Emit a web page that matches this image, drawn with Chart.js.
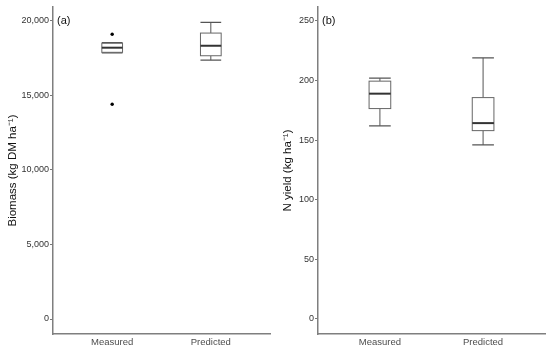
<!DOCTYPE html>
<html>
<head>
    <title>Biomass and N yield</title>
    <script src="https://cdn.jsdelivr.net/npm/chart.js"></script>
    <style>
        body { margin: 0; background: #fff; }
        .panel { position: absolute; top: 0; width: 275px; height: 351px; }
    </style>
</head>
<body>
    <div class="panel" style="left: 0;"><canvas id="biomassChart"></canvas></div>
    <div class="panel" style="left: 275px;"><canvas id="nyieldChart"></canvas></div>

    <script>
    // categories on the x axis
    const categories = ['Measured', 'Predicted'];

    // (a) biomass, kg DM/ha - box stats per category
    const biomassLow = [17850, 17360];
    const biomassQ1 = [17880, 17650];
    const biomassMedian = [18190, 18320];
    const biomassQ3 = [18486, 19170];
    const biomassHigh = [18526, 19890];
    const biomassOutliers = [19090, 14400]; // all on "Measured"
    const biomassTicks = [0, 5000, 10000, 15000, 20000];

    // (b) N yield, kg/ha
    const nLow = [162, 146];
    const nQ1 = [176.5, 158];
    const nMedian = [189, 164.3];
    const nQ3 = [199.5, 185.7];
    const nHigh = [202, 219];
    const nTicks = [0, 50, 100, 150, 200, 250];

    const FONT = "'Liberation Sans', Arial, sans-serif";

    // draws the boxes + whiskers through the chart's scales
    function boxPlugin(low, q1, med, q3, high, tag) {
        return {
            id: 'boxes',
            beforeDatasetsDraw(chart) {
                const ctx = chart.ctx;
                const xs = chart.scales.x, ys = chart.scales.y;
                const half = xs.getPixelForValue(1.105) - xs.getPixelForValue(1);
                ctx.save();
                for (let i = 0; i < categories.length; i++) {
                    const cx = xs.getPixelForValue(i + 1);
                    const yLow = ys.getPixelForValue(low[i]);
                    const yQ1 = ys.getPixelForValue(q1[i]);
                    const yMed = ys.getPixelForValue(med[i]);
                    const yQ3 = ys.getPixelForValue(q3[i]);
                    const yHigh = ys.getPixelForValue(high[i]);

                    ctx.strokeStyle = '#555';
                    ctx.lineWidth = 1;
                    ctx.beginPath();
                    ctx.moveTo(cx, yHigh); ctx.lineTo(cx, yQ3);
                    ctx.moveTo(cx, yQ1); ctx.lineTo(cx, yLow);
                    ctx.stroke();

                    // caps
                    ctx.lineWidth = 1.3;
                    ctx.beginPath();
                    ctx.moveTo(cx - half, yHigh); ctx.lineTo(cx + half, yHigh);
                    ctx.moveTo(cx - half, yLow); ctx.lineTo(cx + half, yLow);
                    ctx.stroke();

                    // box
                    ctx.fillStyle = '#fff';
                    ctx.fillRect(cx - half, yQ3, half * 2, yQ1 - yQ3);
                    ctx.strokeStyle = '#666';
                    ctx.lineWidth = 1;
                    ctx.strokeRect(cx - half, yQ3, half * 2, yQ1 - yQ3);

                    // median
                    ctx.strokeStyle = '#333';
                    ctx.lineWidth = 2;
                    ctx.beginPath();
                    ctx.moveTo(cx - half, yMed); ctx.lineTo(cx + half, yMed);
                    ctx.stroke();
                }
                // panel tag
                ctx.fillStyle = '#111';
                ctx.font = '11px ' + FONT;
                ctx.textAlign = 'left';
                ctx.textBaseline = 'middle';
                ctx.fillText(tag, chart.chartArea.left + 4, ys.getPixelForValue(ys.options.tagValue));
                ctx.restore();
            }
        };
    }

    function makePanel(id, cfg) {
        return new Chart(document.getElementById(id), {
            type: 'scatter',
            data: {
                datasets: [{
                    data: cfg.outliers.map(v => ({ x: 1, y: v })),
                    pointRadius: 1.7,
                    pointBackgroundColor: '#000',
                    pointBorderWidth: 0
                }]
            },
            options: {
                responsive: true,
                maintainAspectRatio: false,
                animation: false,
                layout: { padding: { top: 7, right: 5, left: 0, bottom: 0 } },
                plugins: { legend: { display: false }, tooltip: { enabled: false } },
                scales: {
                    x: {
                        type: 'linear',
                        min: 0.4,
                        max: 2.6,
                        afterBuildTicks: s => { s.ticks = categories.map((c, i) => ({ value: i + 1 })); },
                        afterFit: s => { s.height = 17; },
                        ticks: {
                            callback: v => categories[v - 1],
                            color: '#4d4d4d',
                            font: { family: FONT, size: 9.5 },
                            padding: 3,
                            maxRotation: 0
                        },
                        grid: { drawOnChartArea: false, drawTicks: false },
                        border: { display: true, color: '#7f7f7f', width: 1.5 }
                    },
                    y: {
                        min: cfg.min,
                        max: cfg.max,
                        tagValue: cfg.ticks[cfg.ticks.length - 1],
                        afterBuildTicks: s => { s.ticks = cfg.ticks.map(v => ({ value: v })); },
                        afterFit: s => { s.width = cfg.axisWidth; },
                        ticks: {
                            callback: v => v.toLocaleString('en-US'),
                            color: '#333',
                            font: { family: FONT, size: 9 },
                            padding: 1
                        },
                        grid: { drawOnChartArea: false, drawTicks: true, tickLength: 3, color: '#777' },
                        border: { display: true, color: '#7f7f7f', width: 1.5 },
                        title: {
                            display: true,
                            text: cfg.title,
                            color: '#111',
                            font: { family: FONT, size: 11.5 },
                            padding: { top: 6, bottom: 0 }
                        }
                    }
                }
            },
            plugins: [boxPlugin(cfg.low, cfg.q1, cfg.med, cfg.q3, cfg.high, cfg.tag)]
        });
    }

    makePanel('biomassChart', {
        outliers: biomassOutliers, min: -1005, max: 20918, ticks: biomassTicks,
        low: biomassLow, q1: biomassQ1, med: biomassMedian, q3: biomassQ3, high: biomassHigh,
        title: 'Biomass (kg DM ha\u207B\u00B9)', tag: '(a)', axisWidth: 53
    });

    makePanel('nyieldChart', {
        outliers: [], min: -12.6, max: 261.7, ticks: nTicks,
        low: nLow, q1: nQ1, med: nMedian, q3: nQ3, high: nHigh,
        title: 'N yield (kg ha\u207B\u00B9)', tag: '(b)', axisWidth: 43
    });
    </script>
</body>
</html>
